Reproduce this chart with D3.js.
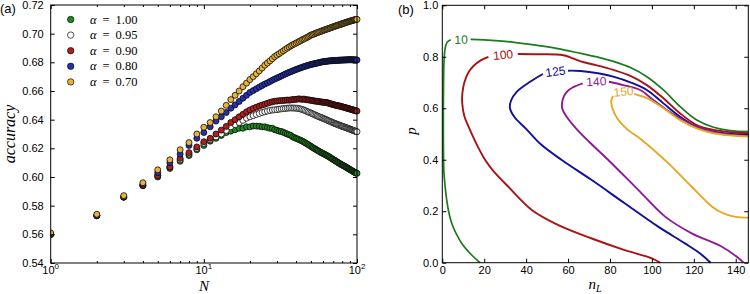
<!DOCTYPE html>
<html><head><meta charset="utf-8">
<script src="https://cdn.jsdelivr.net/npm/d3@7"></script>
<style>body{margin:0;background:#fff}svg{display:block}</style>
</head><body><svg id="c" width="750" height="294"></svg>
<script>
// ---------- Panel (a) data ----------
const N = [1,2,3,4,5,6,7,8,9,10,11,12,13,14,15,16,17,18,19,20,21,22,23,24,25,26,27,28,29,30,31,32,33,34,35,36,37,38,39,40,41,42,43,44,45,46,47,48,49,50,51,52,53,54,55,56,57,58,59,60,61,62,63,64,65,66,67,68,69,70,71,72,73,74,75,76,77,78,79,80,81,82,83,84,85,86,87,88,89,90,91,92,93,94,95,96,97,98,99,100];
const acc100 = [0.560,0.573,0.586,0.594,0.600,0.606,0.611,0.615,0.619,0.622,
0.625,0.627,0.629,0.631,0.632,0.633,0.634,0.634,0.635,0.635,
0.6356,0.6355,0.6354,0.635,0.635,0.6345,0.634,0.634,0.633,0.6326,
0.632,0.6318,0.6312,0.6306,0.630,0.6295,0.629,0.628,0.6275,0.627,
0.6265,0.626,0.6255,0.625,0.6244,0.6238,0.6232,0.6226,0.622,0.6214,
0.6208,0.6202,0.6197,0.6192,0.6187,0.6182,0.6177,0.6172,0.6168,0.6164,
0.616,0.6156,0.6152,0.6148,0.6144,0.614,0.6135,0.613,0.6126,0.6122,
0.6118,0.6114,0.611,0.6106,0.6102,0.6098,0.6094,0.609,0.6087,0.6084,
0.6081,0.6078,0.6075,0.6072,0.6068,0.6065,0.6062,0.6058,0.6055,0.6052,
0.6049,0.6046,0.6043,0.604,0.6037,0.6034,0.6031,0.6028,0.6027,0.6026];
const acc095 = [0.560,0.573,0.586,0.594,0.601,0.607,0.612,0.616,0.620,0.6235,
0.626,0.628,0.630,0.6325,0.635,0.6365,0.638,0.6395,0.641,0.642,
0.6428,0.6436,0.6443,0.645,0.6455,0.646,0.6464,0.6467,0.6469,0.647,
0.6473,0.6475,0.6477,0.6478,0.648,0.6481,0.6482,0.6481,0.6481,0.648,
0.6479,0.6477,0.6474,0.6471,0.6467,0.6463,0.6458,0.6454,0.645,0.6446,
0.6442,0.6438,0.6434,0.643,0.6426,0.6422,0.6419,0.6416,0.6413,0.641,
0.6406,0.6403,0.64,0.6396,0.6393,0.639,0.6387,0.6384,0.6381,0.6378,
0.6375,0.6373,0.637,0.6368,0.6365,0.6363,0.636,0.6358,0.6356,0.6354,
0.6352,0.635,0.6348,0.6346,0.6344,0.6342,0.634,0.6338,0.6336,0.6334,
0.6332,0.633,0.6328,0.6326,0.6324,0.6322,0.632,0.6319,0.6317,0.6316];
const acc090 = [0.560,0.573,0.586,0.594,0.601,0.607,0.613,0.617,0.621,0.6246,
0.627,0.630,0.6327,0.6353,0.638,0.640,0.642,0.6438,0.6455,0.6468,
0.6478,0.6487,0.6495,0.6502,0.6508,0.6514,0.652,0.6525,0.6528,0.653,
0.6532,0.6533,0.6534,0.6535,0.6537,0.6536,0.6538,0.654,0.6541,0.6542,
0.6544,0.6545,0.6543,0.6542,0.6544,0.6541,0.6539,0.6538,0.6537,0.6535,
0.6533,0.6532,0.653,0.6529,0.6528,0.6527,0.6525,0.6524,0.6523,0.6522,
0.6521,0.652,0.652,0.6518,0.6516,0.6513,0.6511,0.6509,0.6507,0.6505,
0.6503,0.6502,0.65,0.6499,0.6497,0.6496,0.6495,0.6494,0.6492,0.649,
0.6488,0.6487,0.6485,0.6484,0.6482,0.648,0.6479,0.6477,0.6476,0.6474,
0.6473,0.6471,0.647,0.6468,0.6467,0.6465,0.6464,0.6462,0.6461,0.646];
const acc080 = [0.560,0.573,0.586,0.595,0.603,0.610,0.616,0.622,0.627,0.631,
0.635,0.639,0.642,0.645,0.648,0.6503,0.6527,0.655,0.657,0.659,
0.6603,0.6615,0.6627,0.6638,0.6648,0.6657,0.6666,0.6675,0.6683,0.669,
0.6697,0.6704,0.6711,0.6718,0.6724,0.673,0.6735,0.674,0.6745,0.675,
0.6754,0.6758,0.6762,0.6766,0.677,0.6773,0.6776,0.6779,0.6782,0.6785,
0.6787,0.6789,0.6791,0.6793,0.6795,0.6797,0.6799,0.6801,0.6803,0.6804,
0.6805,0.6806,0.6807,0.6808,0.6809,0.681,0.6811,0.6811,0.6812,0.6812,
0.6813,0.6813,0.6814,0.6814,0.6814,0.6815,0.6815,0.6815,0.6816,0.6816,
0.6816,0.6816,0.6817,0.6817,0.6817,0.6817,0.6818,0.6818,0.6818,0.6818,
0.6818,0.6818,0.6818,0.6817,0.6817,0.6817,0.6817,0.6817,0.6816,0.6816];
const acc070 = [0.561,0.574,0.587,0.596,0.605,0.612,0.619,0.624,0.630,0.6347,
0.638,0.642,0.646,0.650,0.654,0.657,0.660,0.663,0.6655,0.668,
0.670,0.672,0.674,0.676,0.678,0.6795,0.681,0.6825,0.684,0.685,
0.686,0.687,0.688,0.689,0.6899,0.6907,0.6915,0.6922,0.6928,0.6934,
0.694,0.6946,0.6952,0.6958,0.6963,0.6968,0.6973,0.6978,0.6984,0.699,
0.6993,0.6996,0.7,0.7004,0.7007,0.701,0.7013,0.7016,0.7019,0.7022,
0.7025,0.7028,0.703,0.7033,0.7035,0.7038,0.704,0.7043,0.7045,0.7048,
0.705,0.7052,0.7055,0.7057,0.7059,0.7061,0.7063,0.7065,0.7067,0.7069,
0.7071,0.7073,0.7075,0.7077,0.7079,0.708,0.7082,0.7084,0.7086,0.7087,
0.7089,0.709,0.7092,0.7093,0.7095,0.7096,0.7097,0.7098,0.7099,0.71];
const alphaLabels = ["1.00","0.95","0.90","0.80","0.70"];
const yTicksA = [0.54,0.56,0.58,0.60,0.62,0.64,0.66,0.68,0.70,0.72];
const xMajorA = [1,10,100];
const xMinorA = [2,3,4,5,6,7,8,9,20,30,40,50,60,70,80,90];

// ---------- Panel (b) data: contour lines [n_L, p], split at the inline label ----------
const contourLevels = [10,100,125,140,150];
const contour10 = [
 [[18,0],[14,0.03],[9.3,0.075],[6.5,0.115],[4.5,0.153],[3,0.2],[2.1,0.244],[1.3,0.3],[0.8,0.347],[0.6,0.4],[0.5,0.5],[0.5,0.6],[0.6,0.7],[0.8,0.78],[1.3,0.83],[2.2,0.855],[4,0.866]],
 [[13.5,0.868],[20,0.866],[30,0.86],[42,0.848],[55,0.832],[66,0.813],[75,0.797],[82,0.781],[90,0.757],[97.6,0.7226],[105.5,0.671],[113.5,0.606],[121.4,0.554],[129.4,0.526],[137.3,0.513],[146,0.509]]];
const contour100 = [
 [[104,0],[100,0.017],[87,0.049],[71,0.095],[55.4,0.146],[42.7,0.205],[31.5,0.295],[24,0.36],[20.4,0.4],[17,0.45],[13,0.52],[10.5,0.57],[9.5,0.62],[9.6,0.66],[10.5,0.7],[12.5,0.74],[15,0.765],[18.5,0.787],[22,0.8]],
 [[36,0.811],[45,0.81],[57.8,0.806],[66,0.782],[72,0.77],[81.6,0.749],[90,0.725],[97.6,0.69],[105.5,0.639],[113.5,0.58],[121.4,0.535],[129.4,0.516],[138,0.507],[146,0.503]]];
const contour125 = [
 [[128,0],[123,0.036],[115.8,0.075],[103,0.14],[87,0.231],[71.3,0.321],[57,0.399],[47,0.46],[40,0.52],[34.5,0.565],[32.3,0.6],[32.8,0.63],[35.5,0.664],[41.9,0.703],[48,0.733]],
 [[60,0.746],[66,0.745],[75,0.735],[81.6,0.723],[90,0.7],[97.6,0.671],[105.5,0.619],[113.5,0.567],[121.4,0.528],[129.4,0.509],[138,0.5],[146,0.496]]];
const contour140 = [
 [[143.7,0],[141,0.02],[133.4,0.062],[119,0.114],[106.3,0.179],[93.6,0.282],[79.2,0.399],[70,0.47],[64,0.52],[59.5,0.565],[57.2,0.6],[57.5,0.635],[59.5,0.665],[62.5,0.682],[67,0.697]],
 [[79.5,0.703],[86.4,0.69],[94.4,0.671],[100.7,0.632],[107.1,0.593],[113.5,0.561],[121.4,0.528],[129.4,0.507],[138,0.497],[146,0.492]]];
const contour150 = [
 [[146,0.175],[140,0.178],[136.5,0.185],[132,0.2],[128.6,0.218],[119,0.295],[107.9,0.386],[95.2,0.477],[88,0.52],[83.5,0.56],[81.2,0.6],[80.6,0.63],[81.5,0.648]],
 [[91.5,0.656],[97.6,0.639],[105.5,0.6],[113.5,0.554],[121.4,0.522],[129.4,0.503],[138,0.494],[146,0.49]]];
const contourLabelPos = [[9,0.866],[29,0.807],[54,0.742],[73.5,0.703],[86.5,0.664]];
const xTicksB = [0,20,40,60,80,100,120,140];
const yTicksB = [0.0,0.2,0.4,0.6,0.8,1.0];

// ---------- drawing ----------
const svg = d3.select("#c");
const sans = "'Liberation Sans', Arial, sans-serif";
const serif = "'Liberation Serif', 'Times New Roman', serif";

function frame(g, x0, x1, y0, y1){
  g.append("rect").attr("x",x0).attr("y",y0).attr("width",x1-x0).attr("height",y1-y0)
   .attr("fill","none").attr("stroke","#000").attr("stroke-width",1);
}
function cleanAxis(sel){ sel.select(".domain").remove(); sel.selectAll("line").attr("stroke","#000"); }

// Panel a
const xa = d3.scaleLog().domain([1,100]).range([50.7,357]);
const ya = d3.scaleLinear().domain([0.54,0.72]).range([263,5]);
const ga = svg.append("g");

const series = [
  {vals:acc100, fill:"#1f8a1f"},
  {vals:acc095, fill:"#ffffff"},
  {vals:acc090, fill:"#b01e1e"},
  {vals:acc080, fill:"#2432b0"},
  {vals:acc070, fill:"#e8b23a"}
];
svg.append("clipPath").attr("id","clipA").append("rect")
  .attr("x",50.7).attr("y",5).attr("width",357-50.7+4).attr("height",263-5+4);
series.forEach(s=>{
  ga.append("g").attr("clip-path","url(#clipA)").selectAll("circle").data(N).join("circle")
    .attr("cx",d=>xa(d)).attr("cy",(d,i)=>ya(s.vals[i])).attr("r",3)
    .attr("fill",s.fill).attr("stroke","#0a0a0a").attr("stroke-width",0.8);
});

// axes a
ga.append("g").attr("transform","translate(0,263)").call(d3.axisBottom(xa).tickValues(xMajorA).tickSize(-4).tickFormat("")).call(cleanAxis);
ga.append("g").attr("transform","translate(0,263)").call(d3.axisBottom(xa).tickValues(xMinorA).tickSize(-2).tickFormat("")).call(cleanAxis);
ga.append("g").attr("transform","translate(0,5)").call(d3.axisTop(xa).tickValues(xMajorA).tickSize(-4).tickFormat("")).call(cleanAxis);
ga.append("g").attr("transform","translate(0,5)").call(d3.axisTop(xa).tickValues(xMinorA).tickSize(-2).tickFormat("")).call(cleanAxis);
const la = ga.append("g").attr("transform","translate(50.7,0)").call(d3.axisLeft(ya).tickValues(yTicksA).tickSize(-4).tickPadding(7).tickFormat(d3.format(".2f"))).call(cleanAxis);
la.selectAll("text").attr("font-family",sans).attr("font-size",11).attr("fill","#000");
ga.append("g").attr("transform","translate(357,0)").call(d3.axisRight(ya).tickValues(yTicksA).tickSize(-4).tickFormat("")).call(cleanAxis);
frame(ga,50.7,357,5,263);
// log tick labels
xMajorA.forEach(v=>{
  const t = ga.append("text").attr("x",xa(v)).attr("y",273.5).attr("text-anchor","middle")
    .attr("font-family",sans).attr("font-size",11);
  t.append("tspan").text("10");
  t.append("tspan").attr("dy",-5).attr("font-size",8).text(String(Math.round(Math.log10(v))));
});
// legend
alphaLabels.forEach((lab,i)=>{
  const y = 19.5 + i*15.6;
  ga.append("circle").attr("cx",70.7).attr("cy",y).attr("r",3.2).attr("fill",series[i].fill)
    .attr("stroke","#0a0a0a").attr("stroke-width",0.7);
  const t = ga.append("text").attr("y",y+4).attr("font-family",serif).attr("font-size",12.5);
  t.append("tspan").attr("x",90).attr("font-style","italic").text("α");
  t.append("tspan").attr("x",102.5).text("=");
  t.append("tspan").attr("x",115.5).text(lab);
});
// labels a
ga.append("text").attr("transform","translate(15,134) rotate(-90)").attr("text-anchor","middle")
  .attr("font-family",serif).attr("font-style","italic").attr("font-size",16).text("accuracy");
ga.append("text").attr("x",204).attr("y",291).attr("text-anchor","middle")
  .attr("font-family",serif).attr("font-style","italic").attr("font-size",15).text("N");
svg.append("text").attr("x",0).attr("y",12.5).attr("font-family",sans).attr("font-size",13).text("(a)");

// Panel b
const xb = d3.scaleLinear().domain([0,146]).range([442.3,748.3]);
const yb = d3.scaleLinear().domain([0,1]).range([262.7,5.3]);
const gb = svg.append("g");
const contours = [contour10,contour100,contour125,contour140,contour150];
const ccolors = ["#1d7a1d","#a81414","#10109a","#8e1a98","#e8a622"];
const line = d3.line().x(d=>xb(d[0])).y(d=>yb(d[1])).curve(d3.curveCatmullRom.alpha(0.5));
contours.forEach((c,k)=>{
  c.forEach(seg=>{
    gb.append("path").attr("d",line(seg)).attr("fill","none").attr("stroke",ccolors[k])
      .attr("stroke-width",k===0?1.7:1.9).attr("stroke-linejoin","round");
  });
  const a = c[0][c[0].length-1], b = c[1][0];
  const ang = Math.atan2(yb(b[1])-yb(a[1]), xb(b[0])-xb(a[0]))*180/Math.PI;
  const pos = contourLabelPos[k];
  gb.append("text").attr("transform",`translate(${xb(pos[0])},${yb(pos[1])}) rotate(${ang})`)
    .attr("text-anchor","middle").attr("dominant-baseline","central")
    .attr("font-family",sans).attr("font-size",12).attr("fill",ccolors[k]).text(contourLevels[k]);
});
const bb = gb.append("g").attr("transform","translate(0,262.7)").call(d3.axisBottom(xb).tickValues(xTicksB).tickSize(-4).tickPadding(4).tickFormat(d3.format("d"))).call(cleanAxis);
bb.selectAll("text").attr("font-family",sans).attr("font-size",11).attr("fill","#000");
gb.append("g").attr("transform","translate(0,5.3)").call(d3.axisTop(xb).tickValues(xTicksB).tickSize(-4).tickFormat("")).call(cleanAxis);
const lb = gb.append("g").attr("transform","translate(442.3,0)").call(d3.axisLeft(yb).tickValues(yTicksB).tickSize(-4).tickPadding(4).tickFormat(d3.format(".1f"))).call(cleanAxis);
lb.selectAll("text").attr("font-family",sans).attr("font-size",11).attr("fill","#000");
gb.append("g").attr("transform","translate(748.3,0)").call(d3.axisRight(yb).tickValues(yTicksB).tickSize(-4).tickFormat("")).call(cleanAxis);
frame(gb,442.3,748.3,5.3,262.7);
gb.append("text").attr("transform","translate(416,131) rotate(-90)").attr("text-anchor","middle")
  .attr("font-family",serif).attr("font-style","italic").attr("font-size",15).text("p");
const xl = gb.append("text").attr("x",595).attr("y",289).attr("text-anchor","middle")
  .attr("font-family",serif).attr("font-style","italic").attr("font-size",15);
xl.append("tspan").text("n");
xl.append("tspan").attr("dy",3).attr("font-size",10).text("L");
svg.append("text").attr("x",398).attr("y",14).attr("font-family",sans).attr("font-size",13).text("(b)");
</script></body></html>
